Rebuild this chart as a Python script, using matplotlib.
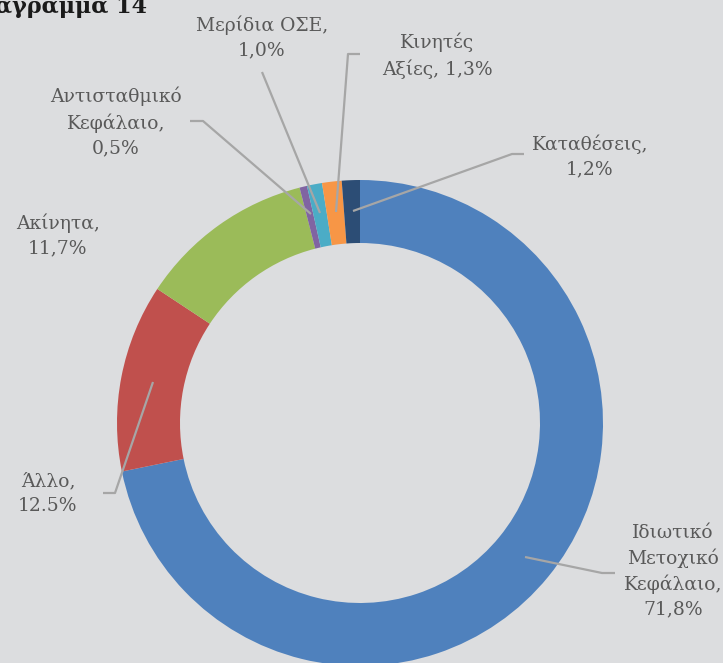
import matplotlib.pyplot as plt

# Data (clockwise from 12 o'clock)
labels = ["Ιδιωτικό\nΜετοχικό\nΚεφάλαιο,\n71,8%", "Άλλο,\n12.5%", "Ακίνητα,\n11,7%",
          "Αντισταθμικό\nΚεφάλαιο,\n0,5%", "Μερίδια ΟΣΕ,\n1,0%", "Κινητές\nΑξίες, 1,3%",
          "Καταθέσεις,\n1,2%"]
values = [71.8, 12.5, 11.7, 0.5, 1.0, 1.3, 1.2]
colors = ["#4f81bd", "#c0504d", "#9bbb59", "#8064a2", "#4bacc6", "#f79646", "#2c4d75"]

# label centres and leader lines in pixel coords (y from top)
label_pos = [(673, 571), (48, 494), (58, 235), (116, 122), (262, 37), (437, 56), (590, 156)]
leaders = [
    [(615, 573), (602, 573), (525, 557)],
    [(103, 493), (115, 493), (153, 382)],
    None,
    [(190, 121), (203, 121), (311, 214)],
    [(262, 72), (320, 213)],
    [(360, 54), (348, 54), (336, 212)],
    [(524, 154), (512, 154), (353, 211)],
]

W, H = 723, 663
bg = "#dcdddf"
txt = "#595959"

fig = plt.figure(figsize=(W / 100, H / 100), dpi=100, facecolor=bg)
ax = fig.add_axes([0, 0, 1, 1])
ax.set_facecolor(bg)
ax.set_xlim(0, W)
ax.set_ylim(0, H)
ax.set_aspect("equal")
ax.axis("off")

ax.pie(values, colors=colors, startangle=90, counterclock=False,
       center=(360, H - 423), radius=243, frame=True,
       wedgeprops=dict(width=63, linewidth=0))
ax.set_xlim(0, W)
ax.set_ylim(0, H)
ax.axis("off")

for lab, (x, y), ln in zip(labels, label_pos, leaders):
    ax.text(x, H - y, lab, ha="center", va="center", fontsize=13.5, color=txt,
            family="DejaVu Serif", fontweight="light", linespacing=1.45)
    if ln:
        ax.plot([p[0] for p in ln], [H - p[1] for p in ln], color="#a6a6a6", lw=1.6,
                solid_capstyle="butt")

ax.text(147, H - 13, "Διάγραμμα 14", ha="right", va="baseline", fontsize=16,
        fontweight="bold", family="DejaVu Serif", color="#1a1a1a")

plt.savefig("out.png", dpi=100, facecolor=bg)
